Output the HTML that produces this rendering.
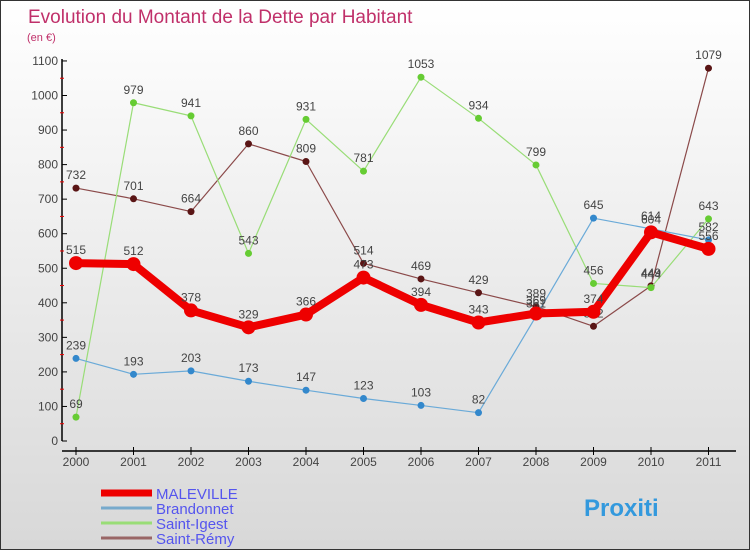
<!DOCTYPE html>
<html><head><meta charset="utf-8"><style>
body{margin:0}
#c{width:750px;height:550px;position:relative;background:linear-gradient(#ffffff,#d8d8d8);border:1px solid #333;box-sizing:border-box;overflow:hidden;font-family:"Liberation Sans",sans-serif}
svg text{font-family:"Liberation Sans",sans-serif}
</style></head><body>
<div id="c">
<svg id="s" width="750" height="550">
<text x="27" y="22" font-size="19" fill="#c0306a">Evolution du Montant de la Dette par Habitant</text>
<text x="26" y="40" font-size="11" fill="#c0306a">(en €)</text>
</svg>
</div>
<script>
const years=[2000,2001,2002,2003,2004,2005,2006,2007,2008,2009,2010,2011];
const yTicks=[0,100,200,300,400,500,600,700,800,900,1000,1100];
const maleville=[515,512,378,329,366,473,394,343,369,374,604,556];
const brandonnet=[239,193,203,173,147,123,103,82,361,645,614,582];
const saintIgest=[69,979,941,543,931,781,1053,934,799,456,444,643];
const saintRemy=[732,701,664,860,809,514,469,429,389,332,449,1079];
const svg=document.getElementById('s');const NS='http://www.w3.org/2000/svg';
function X(i){return 75+i*57.5;}
function Y(v){return 440-v*0.3455;}
function mk(t,a,p){const e=document.createElementNS(NS,t);for(const k in a)e.setAttribute(k,a[k]);(p||svg).appendChild(e);return e;}
// axes
let ax=mk('line',{x1:61,y1:58,x2:61,y2:440,stroke:'#000','stroke-width':1.5});


yTicks.forEach(v=>{mk('line',{x1:61,x2:66,y1:Y(v),y2:Y(v),stroke:'#000'});
 if(v<1100)mk('line',{x1:59,x2:63,y1:Y(v+50),y2:Y(v+50),stroke:'#e00'});
 const t=mk('text',{x:57,y:Y(v)+4,'font-size':12,fill:'#444','text-anchor':'end'});t.textContent=v;
 
 });
let xa=mk('line',{x1:61,y1:450,x2:735,y2:450,stroke:'#000','stroke-width':1.5});


years.forEach((y,i)=>{mk('line',{x1:X(i),x2:X(i),y1:446,y2:454,stroke:'#000'});
 const t=mk('text',{x:X(i),y:465,'font-size':12,fill:'#444','text-anchor':'middle'});t.textContent=y;
 
 });
function series(data,color,w,r,dot,name){
 const g=mk('g',{});
 
 
 mk('polyline',{points:data.map((v,i)=>X(i)+','+Y(v)).join(' '),fill:'none',stroke:color,'stroke-width':w,'stroke-linejoin':'round'},g);
 data.forEach((v,i)=>{mk('circle',{cx:X(i),cy:Y(v),r:r,fill:dot},g);
  const t=mk('text',{x:X(i),y:Y(v)-9,'font-size':12,fill:'#444','text-anchor':'middle'},g);t.textContent=v;});
}
series(saintRemy,'#8b4a4a',1.2,3.5,'#5a1515','series-saint-remy');
series(saintIgest,'#99dd77',1.2,3.5,'#66cc33','series-saint-igest');
series(brandonnet,'#6aaad8',1.2,3.5,'#3388cc','series-brandonnet');
series(maleville,'#ee0000',8,7,'#ee0000','series-maleville');
const names=['MALEVILLE','Brandonnet','Saint-Igest','Saint-Rémy'];
const cols=['#ee0000','#77aacc','#99dd77','#996666'];const ws=[7,3,3,3];
names.forEach((n,i)=>{const g=mk('g',{});
 
 
 const y=492+i*15;
 mk('line',{x1:100,x2:151,y1:y,y2:y,stroke:cols[i],'stroke-width':ws[i]},g);
 const t=mk('text',{x:155,y:y+6,'font-size':15,fill:'#5555ee'},g);t.textContent=n;});
const lg=mk('text',{x:583,y:515,'font-size':24,'font-weight':'bold',fill:'#3399dd'});lg.textContent='Proxiti';


</script>
</body></html>
